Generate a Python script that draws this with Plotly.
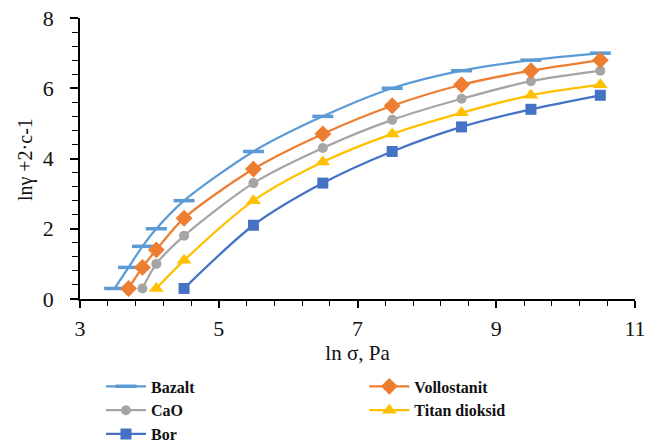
import plotly.graph_objects as go

bazalt_x = [3.5, 3.7, 3.9, 4.1, 4.5, 5.5, 6.5, 7.5, 8.5, 9.5, 10.5]
bazalt_y = [0.3, 0.9, 1.5, 2.0, 2.8, 4.2, 5.2, 6.0, 6.5, 6.8, 7.0]
voll_x = [3.7, 3.9, 4.1, 4.5, 5.5, 6.5, 7.5, 8.5, 9.5, 10.5]
voll_y = [0.3, 0.9, 1.4, 2.3, 3.7, 4.7, 5.5, 6.1, 6.5, 6.8]
cao_x = [3.9, 4.1, 4.5, 5.5, 6.5, 7.5, 8.5, 9.5, 10.5]
cao_y = [0.3, 1.0, 1.8, 3.3, 4.3, 5.1, 5.7, 6.2, 6.5]
titan_x = [4.1, 4.5, 5.5, 6.5, 7.5, 8.5, 9.5, 10.5]
titan_y = [0.3, 1.1, 2.8, 3.9, 4.7, 5.3, 5.8, 6.1]
bor_x = [4.5, 5.5, 6.5, 7.5, 8.5, 9.5, 10.5]
bor_y = [0.3, 2.1, 3.3, 4.2, 4.9, 5.4, 5.8]

SERIF = "Liberation Serif, Times New Roman, DejaVu Serif, serif"

fig = go.Figure()

def add(name, x, y, color, marker, legend):
    fig.add_trace(go.Scatter(
        x=x, y=y, name=name, mode="lines+markers",
        line=dict(color=color, width=2.25, shape="spline", smoothing=0.8),
        marker=marker, legend=legend,
    ))

add("Bazalt", bazalt_x, bazalt_y, "#5B9BD5",
    dict(symbol="line-ew", size=15, color="#5B9BD5", line=dict(width=3.5, color="#5B9BD5")), "legend")
add("CaO", cao_x, cao_y, "#A5A5A5",
    dict(symbol="circle", size=10, color="#A5A5A5"), "legend")
add("Bor", bor_x, bor_y, "#4472C4",
    dict(symbol="square", size=11, color="#4472C4"), "legend")
add("Vollostanit", voll_x, voll_y, "#ED7D31",
    dict(symbol="diamond", size=13, color="#ED7D31"), "legend2")
add("Titan dioksid", titan_x, titan_y, "#FFC000",
    dict(symbol="triangle-up", size=13, color="#FFC000"), "legend2")

tickfont = dict(family=SERIF, size=22, color="#111")
legfont = dict(family=SERIF, size=16, color="#111", weight="bold")

fig.update_layout(
    width=660, height=443,
    font=dict(family=SERIF),
    margin=dict(l=80, r=25, t=18, b=144, autoexpand=False),
    paper_bgcolor="white", plot_bgcolor="white",
    xaxis=dict(
        range=[3, 11], dtick=2, tick0=3, showgrid=False, zeroline=False,
        showline=True, linecolor="black", linewidth=1.5,
        ticks="outside", ticklen=7, tickcolor="black", tickwidth=1.5,
        minor=dict(dtick=0.4, tick0=3, ticks="outside", ticklen=5, tickcolor="black", tickwidth=1.2),
        tickfont=tickfont, ticklabelstandoff=2,
        title=dict(text="ln σ, Pa", font=dict(family=SERIF, size=21, color="#111"), standoff=0),
    ),
    yaxis=dict(
        range=[0, 8], dtick=2, showgrid=False, zeroline=False,
        showline=True, linecolor="black", linewidth=1.5,
        ticks="outside", ticklen=8, tickcolor="black", tickwidth=1.5,
        minor=dict(dtick=0.4, ticks="outside", ticklen=6, tickcolor="black", tickwidth=1.2),
        tickfont=tickfont, ticklabelstandoff=12,
    ),
    annotations=[dict(
        text="lnγ +2·c-1", textangle=-90, showarrow=False,
        xref="paper", yref="paper", x=-0.097, y=0.495, xanchor="center", yanchor="middle",
        font=dict(family=SERIF, size=20, color="#111"),
    )],
    legend=dict(x=0.153, y=0.166, xref="container", yref="container", xanchor="left", yanchor="top",
                font=legfont, bgcolor="rgba(0,0,0,0)", tracegroupgap=0, itemwidth=40),
    legend2=dict(x=0.552, y=0.166, xref="container", yref="container", xanchor="left", yanchor="top",
                 font=legfont, bgcolor="rgba(0,0,0,0)", tracegroupgap=0, itemwidth=40),
    showlegend=True,
)

fig.write_html("out.html")
